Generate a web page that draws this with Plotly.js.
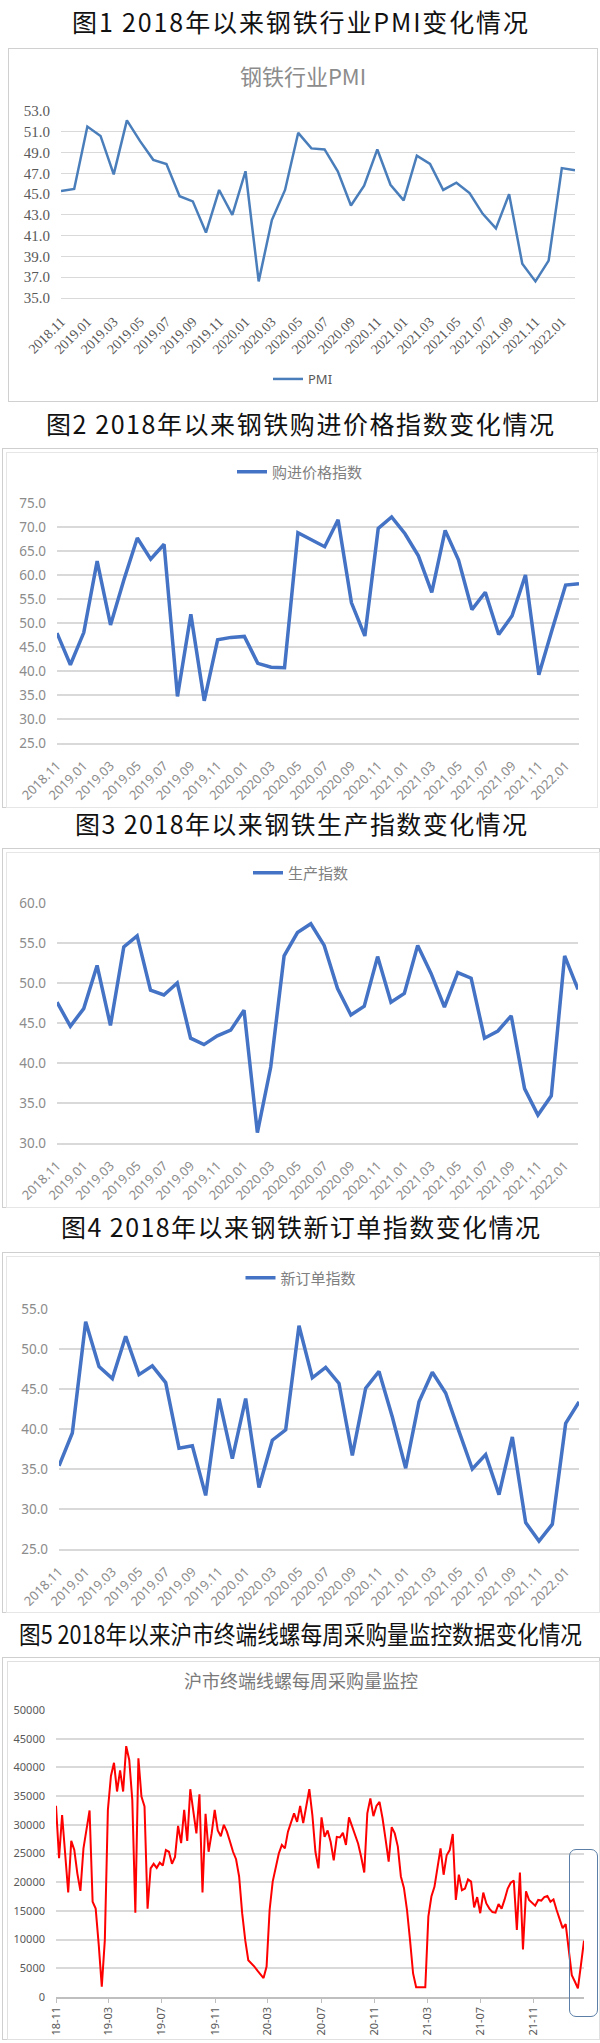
<!DOCTYPE html>
<html><head><meta charset="utf-8">
<script src="https://cdn.plot.ly/plotly-3.0.1.min.js"></script>
<style>
body{margin:0;background:#fff;width:600px;height:2043px;position:relative;overflow:hidden;font-family:"Noto Sans CJK SC",sans-serif}
#captions{position:absolute;left:0;top:0;z-index:5}
#captions text{font-family:"Noto Sans CJK SC",sans-serif;font-size:25px;fill:#111}
.box{position:absolute;box-sizing:border-box;pointer-events:none}
.chart{position:absolute}
</style></head><body>
<div id="c1" class="chart" style="left:8px;top:48px"></div>
<div id="c2" class="chart" style="left:2px;top:448px"></div>
<div id="c3" class="chart" style="left:2px;top:848px"></div>
<div id="c4" class="chart" style="left:2px;top:1252px"></div>
<div id="c5" class="chart" style="left:2px;top:1657px"></div>

<div class="box" style="left:8px;top:48px;width:590px;height:354px;border:1.5px solid #d0d0d0"></div>
<div class="box" style="left:2px;top:448px;width:596px;height:360px;border:1.5px solid #cfcfcf"></div>
<div class="box" style="left:6px;top:452px;width:592px;height:356px;border:1px solid #e6e6e6"></div>
<div class="box" style="left:2px;top:848px;width:598px;height:360px;border:1.5px solid #cfcfcf"></div>
<div class="box" style="left:6px;top:852px;width:594px;height:356px;border:1px solid #e6e6e6"></div>
<div class="box" style="left:2px;top:1252px;width:598px;height:361px;border:1.5px solid #cfcfcf"></div>
<div class="box" style="left:6px;top:1256px;width:594px;height:357px;border:1px solid #e6e6e6"></div>
<div class="box" style="left:2px;top:1657px;width:598px;height:383px;border:1.5px solid #cfcfcf"></div>
<div class="box" style="left:7px;top:1661px;width:593px;height:379px;border:1px solid #e0e0e0"></div>
<div class="box" style="left:569px;top:1849px;width:29px;height:168px;border:1.5px solid #5b7fa6;border-radius:7px"></div>

<svg id="captions" width="600" height="1660" style="pointer-events:none">
  <text x="300" y="31.5" text-anchor="middle" textLength="456" lengthAdjust="spacing">图1 2018年以来钢铁行业PMI变化情况</text>
  <text x="300" y="434" text-anchor="middle" textLength="508" lengthAdjust="spacing">图2 2018年以来钢铁购进价格指数变化情况</text>
  <text x="301" y="834" text-anchor="middle" textLength="452" lengthAdjust="spacing">图3 2018年以来钢铁生产指数变化情况</text>
  <text x="300.5" y="1237" text-anchor="middle" textLength="479" lengthAdjust="spacing">图4 2018年以来钢铁新订单指数变化情况</text>
  <text x="300.5" y="1644" text-anchor="middle" textLength="563" lengthAdjust="spacingAndGlyphs">图5 2018年以来沪市终端线螺每周采购量监控数据变化情况</text>
</svg>

<script>
// ---- data ----
const months = ['2018.11','2018.12','2019.01','2019.02','2019.03','2019.04','2019.05','2019.06','2019.07','2019.08',
'2019.09','2019.10','2019.11','2019.12','2020.01','2020.02','2020.03','2020.04','2020.05','2020.06',
'2020.07','2020.08','2020.09','2020.10','2020.11','2020.12','2021.01','2021.02','2021.03','2021.04',
'2021.05','2021.06','2021.07','2021.08','2021.09','2021.10','2021.11','2021.12','2022.01','2022.02'];

const pmi = [45.3,45.5,51.5,50.6,46.9,52.1,50.1,48.3,47.9,44.8,
44.3,41.3,45.4,43.0,47.2,36.6,42.5,45.4,50.9,49.4,
49.3,47.2,43.9,45.8,49.3,45.9,44.4,48.7,47.9,45.4,
46.1,45.1,43.1,41.7,45.0,38.3,36.6,38.6,47.5,47.3];

const purchasePrice = [47.9,41.3,48.0,62.9,49.6,59.0,67.7,63.3,66.4,34.7,
51.8,33.8,46.5,47.0,47.2,41.6,40.8,40.7,68.8,67.4,
65.9,71.5,54.2,47.3,69.7,72.1,68.6,64.0,56.4,69.3,
63.1,52.8,56.4,47.6,51.5,60.0,39.2,48.7,57.9,58.2];

const production = [47.6,44.6,46.8,52.2,44.7,54.5,55.9,49.1,48.5,50.0,
43.1,42.3,43.4,44.1,46.6,31.3,39.5,53.4,56.3,57.4,
54.7,49.3,46.0,47.1,53.3,47.6,48.7,54.7,51.2,47.0,
51.3,50.6,43.1,44.0,45.9,36.8,33.5,35.9,53.4,49.2];

const newOrders = [35.4,39.5,53.4,47.8,46.3,51.6,46.8,47.9,45.8,37.6,
37.9,31.7,43.8,36.3,43.8,32.7,38.6,39.9,52.9,46.4,
47.7,45.7,36.7,45.1,47.2,41.5,35.1,43.4,47.1,44.5,
39.7,35.0,36.8,31.8,39.0,28.3,26.0,28.1,40.7,43.4];

const weekStart = '2018-11-01';
const weekEnd = '2022-02-24';
const weeklyPurchase = [33300,24200,31700,24000,18200,27200,25600,21500,18500,25900,
29100,32500,16600,15400,9100,1800,9900,32600,38500,40800,
35800,39500,35800,43700,41300,34300,14700,41600,34900,33200,
15400,22400,23200,22500,23400,22900,25600,25300,23200,24400,
29800,26800,32600,27200,36200,32300,28500,35300,18200,31900,
25300,28500,32600,29000,28000,30000,28800,27100,25300,24000,
21000,14600,9900,6400,5900,5300,4600,4000,3300,5300,
15200,20100,22700,25000,26500,25900,28800,30500,32000,30500,
33300,30300,33300,36200,31700,25300,22400,31300,27900,29000,
27000,23800,27900,27800,28600,26500,31300,29800,28500,26700,
24400,21700,32000,34600,31500,33300,34000,31100,27400,23600,
29600,28500,26200,21000,19000,15200,9900,4100,1700,1700,
1700,1700,14000,17500,19200,22700,25900,21300,24700,25600,
28400,16900,21300,18600,18900,20500,20100,15600,17400,14600,
18200,16300,15400,14800,14700,16200,15400,17000,18900,19900,
20300,11700,21700,8300,18400,16900,16400,15900,16900,16800,
17400,17600,16600,17000,15200,13700,12000,12700,8500,3800,
2700,1500,5600,9800];

// weekly dates (one per reading)
const weekDates = weeklyPurchase.map((_, i) => {
  const d = new Date(weekStart + 'T00:00:00Z');
  d.setUTCDate(d.getUTCDate() + 7 * i);
  return d.toISOString().slice(0, 10);
});

// ---- drawing ----
const CJK = '"Noto Sans CJK SC", "Noto Sans", sans-serif';
const SANS = '"Noto Sans", "Liberation Sans", sans-serif';
const SERIF = '"Liberation Serif", "DejaVu Serif", serif';
const cfg = {staticPlot: true, displayModeBar: false};

function monthlyChart(id, values, name, o) {
  const layout = {
    width: o.w, height: o.h, margin: o.m,
    paper_bgcolor: 'rgba(0,0,0,0)', plot_bgcolor: 'rgba(0,0,0,0)',
    showlegend: true,
    legend: {orientation: 'h', x: 0.5, xanchor: 'center', xref: 'container',
             yref: 'container', y: o.legY, yanchor: 'middle',
             font: {family: o.legFont, size: o.legSize, color: o.legColor}},
    xaxis: {type: 'category', tickmode: 'linear', tick0: 0, dtick: 2, tickangle: -45,
            tickfont: {family: o.tickFamily, size: o.xSize, color: o.tickColor},
            showgrid: false, showline: true, linecolor: '#d9d9d9', linewidth: o.gw,
            ticks: '', ticklabelstandoff: o.xStand, fixedrange: true},
    yaxis: {range: o.range, tickmode: 'linear', tick0: o.range[0], dtick: o.dtick,
            tickformat: '.1f', gridcolor: '#d9d9d9', gridwidth: o.gw, zeroline: false,
            tickfont: {family: o.tickFamily, size: o.ySize, color: o.tickColor},
            ticklabelstandoff: o.yStand, fixedrange: true}
  };
  if (o.title) {
    layout.title = {text: o.title, font: {family: CJK, size: 22, color: '#8c8c8c'},
                    x: 0.5, xref: 'container', xanchor: 'center',
                    y: o.titleY, yref: 'container', yanchor: 'middle'};
  }
  Plotly.newPlot(id, [{x: months, y: values, type: 'scatter', mode: 'lines', name: name,
                       line: {color: o.color, width: o.lw}}], layout, cfg);
}

monthlyChart('c1', pmi, 'PMI', {
  w: 590, h: 354, m: {l: 53, r: 23, t: 63, b: 104}, range: [35, 53], dtick: 2,
  tickFamily: SERIF, tickColor: '#595959', ySize: 15, xSize: 14, yStand: 10, xStand: 9, gw: 1,
  color: '#4a7ebb', lw: 2.5, title: '钢铁行业PMI', titleY: 1 - 29 / 354,
  legY: 1 - 331 / 354, legFont: SANS, legSize: 13, legColor: '#595959'
});
monthlyChart('c2', purchasePrice, '购进价格指数', {
  w: 596, h: 360, m: {l: 55, r: 19, t: 55, b: 65}, range: [25, 75], dtick: 5,
  tickFamily: SANS, tickColor: '#8c8c8c', ySize: 13.5, xSize: 13, yStand: 10, xStand: 8, gw: 2,
  color: '#4472c4', lw: 3.5, legY: 1 - 24 / 360, legFont: CJK, legSize: 15, legColor: '#808080'
});
monthlyChart('c3', production, '生产指数', {
  w: 598, h: 360, m: {l: 55, r: 22, t: 55, b: 65}, range: [30, 60], dtick: 5,
  tickFamily: SANS, tickColor: '#8c8c8c', ySize: 13.5, xSize: 13, yStand: 10, xStand: 8, gw: 2,
  color: '#4472c4', lw: 3.5, legY: 1 - 25 / 360, legFont: CJK, legSize: 15, legColor: '#808080'
});
monthlyChart('c4', newOrders, '新订单指数', {
  w: 598, h: 361, m: {l: 56.6, r: 21, t: 57, b: 64}, range: [25, 55], dtick: 5,
  tickFamily: SANS, tickColor: '#8c8c8c', ySize: 13.5, xSize: 13, yStand: 10, xStand: 8, gw: 2,
  color: '#4472c4', lw: 3.5, legY: 1 - 26 / 361, legFont: CJK, legSize: 15, legColor: '#808080'
});

Plotly.newPlot('c5', [{x: weekDates, y: weeklyPurchase, type: 'scatter', mode: 'lines',
  name: '采购量', line: {color: '#ff0000', width: 2}}], {
  width: 598, height: 383, margin: {l: 53.5, r: 16, t: 53, b: 43},
  paper_bgcolor: 'rgba(0,0,0,0)', plot_bgcolor: 'rgba(0,0,0,0)', showlegend: false,
  title: {text: '沪市终端线螺每周采购量监控', font: {family: CJK, size: 18, color: '#7a7a7a'},
          x: 0.5, xref: 'container', xanchor: 'center', y: 1 - 25 / 383, yref: 'container', yanchor: 'middle'},
  xaxis: {type: 'date', range: [weekStart, weekEnd], tickmode: 'linear', tick0: weekStart, dtick: 'M4',
          tickformat: '%y-%m', tickangle: -90, ticks: 'outside', ticklen: 4, tickcolor: '#bfbfbf',
          tickfont: {family: SANS, size: 11, color: '#595959'}, showgrid: false,
          showline: true, linecolor: '#bfbfbf', linewidth: 1.5, fixedrange: true},
  yaxis: {range: [0, 50000], tickmode: 'linear', tick0: 0, dtick: 5000, gridcolor: '#d9d9d9', gridwidth: 2,
          zeroline: false, tickformat: 'd', tickfont: {family: SANS, size: 11, color: '#595959'},
          ticklabelstandoff: 10, fixedrange: true}
}, cfg);
</script>
</body></html>
